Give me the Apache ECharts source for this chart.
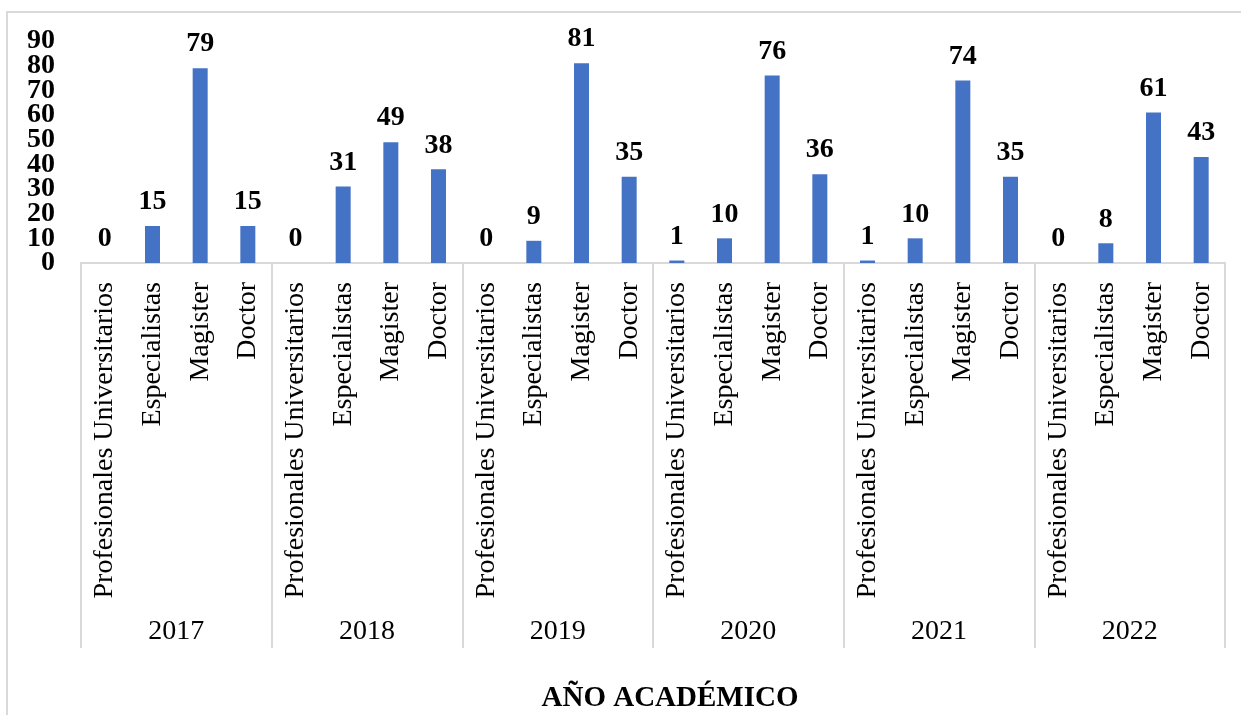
<!DOCTYPE html>
<html>
<head>
<meta charset="utf-8">
<script src="https://cdn.jsdelivr.net/npm/echarts@6/dist/echarts.min.js"></script>
<style>
html,body{margin:0;padding:0;background:#fff;}
#chart{width:1241px;height:715px;}
</style>
</head>
<body>
<div id="chart"></div>
<script>
const years = ['2017', '2018', '2019', '2020', '2021', '2022'];
const levels = ['Profesionales Universitarios', 'Especialistas', 'Magister', 'Doctor'];
const values2017 = [0, 15, 79, 15];
const values2018 = [0, 31, 49, 38];
const values2019 = [0, 9, 81, 35];
const values2020 = [1, 10, 76, 36];
const values2021 = [1, 10, 74, 35];
const values2022 = [0, 8, 61, 43];
const yTicks = [0, 10, 20, 30, 40, 50, 60, 70, 80, 90];
const axisTitle = 'AÑO ACADÉMICO';

const perYear = [values2017, values2018, values2019, values2020, values2021, values2022];
const categories = [];
const values = [];
years.forEach((y, i) => {
  levels.forEach((l, j) => {
    categories.push(l);
    values.push(perYear[i][j]);
  });
});

const font = '"Liberation Serif", "Times New Roman", serif';
const chart = echarts.init(document.getElementById('chart'), null, {renderer: 'canvas'});
chart.setOption({
  animation: false,
  backgroundColor: '#fff',
  grid: {left: 81, right: 16, top: 41, bottom: 452, containLabel: false},
  xAxis: [
    {
      type: 'category',
      data: categories,
      position: 'bottom',
      axisLine: {show: true, lineStyle: {color: '#d9d9d9', width: 2}},
      axisTick: {show: false},
      axisLabel: {
        interval: 0, rotate: 90, margin: 19,
        fontFamily: font, fontSize: 28, color: '#000'
      },
      splitLine: {show: false}
    },
    {
      type: 'category',
      data: years,
      position: 'bottom',
      axisLine: {show: true, lineStyle: {color: '#d9d9d9', width: 2}},
      axisTick: {show: true, interval: 0, length: 385, lineStyle: {color: '#d9d9d9', width: 2}},
      axisLabel: {
        interval: 0, margin: 355,
        fontFamily: font, fontSize: 28, color: '#000'
      },
      splitLine: {show: false}
    }
  ],
  yAxis: [
    {
      type: 'value',
      min: yTicks[0],
      max: yTicks[yTicks.length - 1],
      interval: 10,
      axisLine: {show: false},
      axisTick: {show: false},
      splitLine: {show: false},
      axisLabel: {show: false}
    },
    {
      type: 'category',
      data: yTicks.map(String),
      position: 'left',
      boundaryGap: false,
      axisLine: {show: false},
      axisTick: {show: false},
      splitLine: {show: false},
      axisLabel: {
        interval: 0, margin: 26,
        fontFamily: font, fontSize: 28, fontWeight: 'bold', color: '#000'
      }
    }
  ],
  series: [{
    type: 'bar',
    xAxisIndex: 0,
    yAxisIndex: 0,
    data: values,
    barWidth: 15,
    itemStyle: {color: '#4472C4'},
    label: {
      show: true, position: 'top', distance: 10,
      fontFamily: font, fontSize: 28, fontWeight: 'bold', color: '#000'
    }
  }],
  graphic: [
    {
      type: 'rect',
      shape: {x: 7, y: 12, width: 1400, height: 900},
      style: {fill: 'none', stroke: '#d9d9d9', lineWidth: 2},
      silent: true, z: -1
    },
    {
      type: 'text',
      x: 670, y: 699,
      style: {
        text: axisTitle,
        fontFamily: font, fontSize: 29, fontWeight: 'bold', fill: '#000',
        textAlign: 'center', textVerticalAlign: 'middle'
      }
    }
  ]
});
</script>
</body>
</html>
